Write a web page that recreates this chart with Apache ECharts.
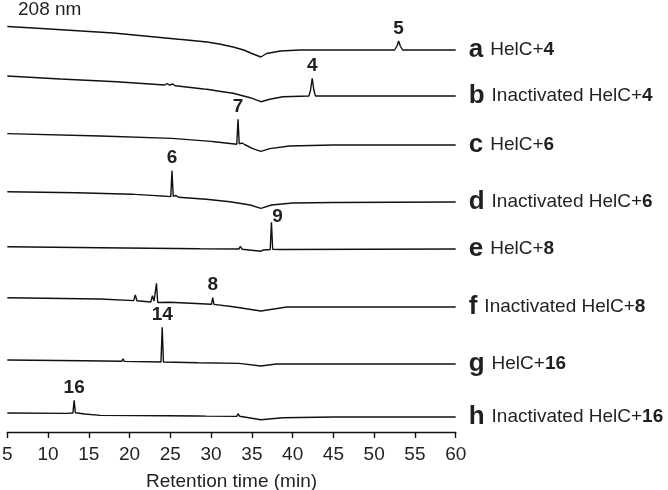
<!DOCTYPE html>
<html>
<head>
    <meta charset="utf-8">
    <title>HelC HPLC traces</title>
    <script src="https://cdn.jsdelivr.net/npm/echarts@6/dist/echarts.min.js"></script>
    <style>
        html, body { margin: 0; padding: 0; background: #fff; }
        #chart { width: 668px; height: 490px; }
    </style>
</head>
<body>
<div id="chart"></div>
<script type="text/javascript">
    // trace labels (right side)
    var traceLetters = ['a', 'b', 'c', 'd', 'e', 'f', 'g', 'h'];
    var traceSamples = ['HelC+', 'Inactivated HelC+', 'HelC+', 'Inactivated HelC+',
        'HelC+', 'Inactivated HelC+', 'HelC+', 'Inactivated HelC+'];
    var traceCompounds = ['4', '4', '6', '6', '8', '8', '16', '16'];

    // x axis ticks
    var xTicks = [5, 10, 15, 20, 25, 30, 35, 40, 45, 50, 55, 60];

    // [retention time (min), signal (a.u., relative to the trace end)]
    var traceA = [[5, 23.5], [8.2, 22], [18, 17], [26, 10.7], [26.2, 12.5], [26.4, 10.5], [29.5, 8], [31, 6],
        [32.7, 3], [34, 0], [35, -3.5], [36.1, -7], [36.8, -3.5], [38.5, -1], [40.9, 0], [52.5, 0], [52.8, 4],
        [53, 9], [53.2, 4], [53.5, 0], [60, 0]];
    var traceB = [[5, 20], [11.5, 17], [18.4, 14.3], [24.3, 11], [24.6, 12.5], [24.9, 10.8], [25.3, 12], [25.6, 10.2],
        [29.1, 7], [29.3, 9], [29.5, 6.7], [31, 4.8], [32.7, 2.7], [34.8, -1.7], [36.1, -5.7], [37.2, -3.3],
        [38.8, -0.7], [42.0, 0], [42.2, 6], [42.4, 17.7], [42.6, 6], [42.8, 0], [60, 0]];
    var traceC = [[5, 11.4], [16.4, 9], [25.2, 6.6], [25.4, 8.5], [25.6, 6.4], [30, 3.6], [30.2, 5], [30.4, 3.3],
        [33.15, 0.8], [33.3, 25.7], [33.45, 1.2], [33.8, 2], [34.1, 0.5], [35.1, -3.6], [36.1, -6.3], [37.2, -3.6],
        [39.6, -1], [45, 0], [60, 0]];
    var traceD = [[5, 10.3], [13.5, 9.3], [20.3, 7.8], [20.5, 9.8], [20.7, 7.6], [23.2, 6.4], [23.35, 8], [23.5, 6.2],
        [25.05, 5.4], [25.2, 31.3], [25.35, 5.8], [25.7, 6.5], [26, 4.8], [29.4, 2.8], [29.5, 4], [29.6, 2.6],
        [32.3, 0.3], [34.8, -3], [36.1, -6.3], [37.4, -3], [40, -1], [45, -0.5], [60, 0]];
    var traceE = [[5, 2.2], [16.4, 1.2], [28.6, 0.2], [33.4, 0], [33.6, 2.5], [33.8, -0.2], [36.1, -2.2], [36.4, -1],
        [36.6, -1.5], [37.25, -0.5], [37.4, 26.8], [37.55, -0.3], [38.5, -0.5], [60, 0]];
    var traceF = [[5, 9.3], [16.4, 8], [20.5, 6.4], [20.7, 12], [20.9, 6.2], [22.6, 5], [22.8, 11.3], [23, 6],
        [23.15, 5], [23.3, 23.7], [23.45, 4.5], [24.9, 4.7], [25.0, 6.3], [25.1, 4.6], [30.05, 2.8], [30.2, 9.3],
        [30.35, 2.6], [32.7, 0.3], [36.1, -4], [39.3, 0], [60, 0]];
    var traceG = [[5, 4], [14.3, 3.3], [19.05, 2.7], [19.2, 5.3], [19.35, 2.6], [23.85, 2], [24.0, 36.7], [24.15, 2],
        [28.4, 1.2], [28.5, 2.2], [28.6, 1.1], [33.35, 0.6], [33.5, 2.3], [33.7, 0.4], [36.1, -2], [38, 0], [60, 0]];
    var traceH = [[5, 4], [12.3, 3.6], [13.05, 4], [13.2, 16.6], [13.35, 4.2], [14.5, 3], [16.4, 1.6], [24.5, 1.3],
        [28.4, 1], [28.5, 2.5], [28.6, 1], [29.4, 0.9], [29.5, 1.8], [29.6, 0.9], [33.15, 0.6], [33.3, 3.3],
        [33.5, 0.8], [36.1, -2.7], [38.8, -0.7], [45, 0], [60, 0]];

    // labelled peaks: retention time and compound number per trace
    var peakTimes = [53, 42.4, 33.3, 25.2, 37.4, 30.2, 24.0, 13.2];
    var peakNames = ['5', '4', '7', '6', '9', '8', '14', '16'];

    var traces = [traceA, traceB, traceC, traceD, traceE, traceF, traceG, traceH];

    // vertical stacking of the traces
    var traceOffset = [382, 336, 287, 230, 183, 125, 68, 15];

    var textColor = '#231f20';
    var font = '"Liberation Sans", Arial, Helvetica, sans-serif';

    var series = traces.map(function (pts, i) {
        var data = pts.map(function (p) {
            return [p[0], p[1] + traceOffset[i]];
        });
        var peak = pts.filter(function (p) { return p[0] === peakTimes[i]; })[0];
        return {
            type: 'line',
            data: data,
            showSymbol: false,
            symbol: 'none',
            silent: true,
            animation: false,
            lineStyle: {color: '#111', width: 1.4},
            markPoint: {
                symbol: 'circle',
                symbolSize: 0,
                silent: true,
                data: [{coord: [peak[0], peak[1] + traceOffset[i]], value: peakNames[i]}],
                label: {
                    show: true,
                    formatter: '{c}',
                    position: 'top',
                    // the "9" sits tight against the right of its peak
                    distance: peakNames[i] === '9' ? -4 : 3,
                    offset: peakNames[i] === '9' ? [6, 0] : [0, 0],
                    fontSize: 19,
                    fontWeight: 'bold',
                    fontFamily: font,
                    color: textColor
                }
            },
            endLabel: {
                show: true,
                distance: 13,
                formatter: '{l|' + traceLetters[i] + '}{t|' + traceSamples[i] + '}{b|' + traceCompounds[i] + '}',
                rich: {
                    l: {fontSize: 26, fontWeight: 'bold', fontFamily: font, color: textColor, padding: [0, 7, 0, 0]},
                    t: {fontSize: 19, fontFamily: font, color: textColor},
                    b: {fontSize: 19, fontWeight: 'bold', fontFamily: font, color: textColor}
                }
            }
        };
    });

    var myChart = echarts.init(document.getElementById('chart'));
    myChart.setOption({
        animation: false,
        grid: {left: 7.3, right: 212.3, top: 0, bottom: 58, outerBoundsMode: 'none', containLabel: false},
        graphic: [{
            type: 'text',
            left: 18,
            top: 0,
            style: {text: '208 nm', fontSize: 19, fontFamily: font, fill: textColor}
        }],
        xAxis: {
            type: 'value',
            min: xTicks[0],
            max: xTicks[xTicks.length - 1],
            interval: 5,
            name: 'Retention time (min)',
            nameLocation: 'middle',
            nameGap: 40,
            nameTextStyle: {fontSize: 19, fontFamily: font, color: textColor},
            axisLine: {lineStyle: {color: '#111', width: 1.4}},
            axisTick: {length: 6, lineStyle: {color: '#111', width: 1.4}},
            axisLabel: {fontSize: 19, fontFamily: font, color: textColor, margin: 13},
            splitLine: {show: false}
        },
        yAxis: {
            type: 'value',
            min: 0,
            max: 432,
            show: false
        },
        series: series
    });
</script>
</body>
</html>
